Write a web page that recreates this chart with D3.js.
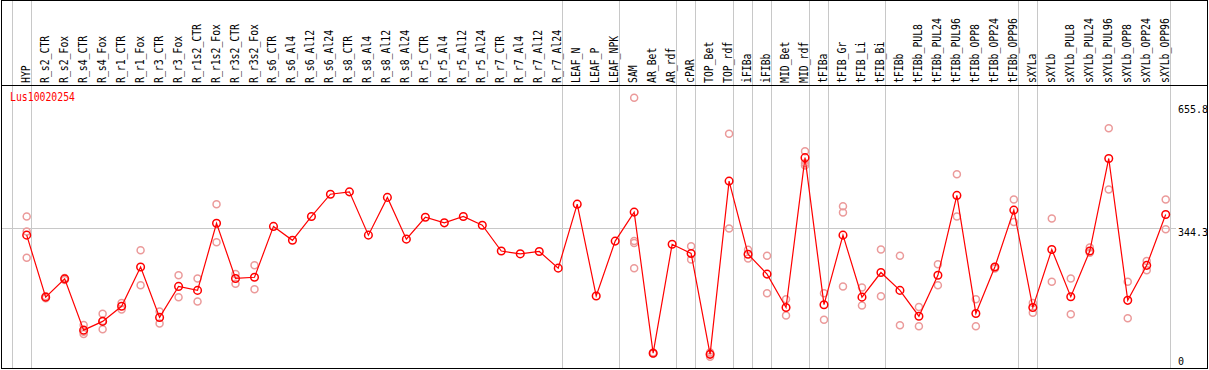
<!DOCTYPE html>
<html>
<head>
<meta charset="utf-8">
<script src="https://cdn.jsdelivr.net/npm/d3@7"></script>
<style>
  body { margin: 0; background: #fff; }
  svg { display: block; }
  text { font-family: "DejaVu Sans Mono", monospace; }
</style>
</head>
<body>
<svg id="chart" width="1209" height="370"></svg>
<script>
// categories along the x axis
const categories = [
  "HYP", "R_s2_CTR", "R_s2_Fox", "R_s4_CTR", "R_s4_Fox", "R_r1_CTR", "R_r1_Fox",
  "R_r3_CTR", "R_r3_Fox", "R_r1s2_CTR", "R_r1s2_Fox", "R_r3s2_CTR", "R_r3s2_Fox",
  "R_s6_CTR", "R_s6_Al4", "R_s6_Al12", "R_s6_Al24", "R_s8_CTR", "R_s8_Al4", "R_s8_Al12", "R_s8_Al24",
  "R_r5_CTR", "R_r5_Al4", "R_r5_Al12", "R_r5_Al24", "R_r7_CTR", "R_r7_Al4", "R_r7_Al12", "R_r7_Al24",
  "LEAF_N", "LEAF_P", "LEAF_NPK", "SAM", "AR_Bet", "AR_rdf", "cPAR", "TOP_Bet", "TOP_rdf",
  "iFIBa", "iFIBb", "MID_Bet", "MID_rdf", "tFIBa", "tFIB_Gr", "tFIB_Li", "tFIB_Bi", "tFIBb",
  "tFIBb_PUL8", "tFIBb_PUL24", "tFIBb_PUL96", "tFIBb_OPP8", "tFIBb_OPP24", "tFIBb_OPP96",
  "sXYLa", "sXYLb", "sXYLb_PUL8", "sXYLb_PUL24", "sXYLb_PUL96", "sXYLb_OPP8", "sXYLb_OPP24", "sXYLb_OPP96"
];

// mean expression (the connected line)
const meanValues = [
  327, 171, 217, 88, 110, 148, 247, 120, 198, 188, 357, 218, 221,
  349, 314, 374, 430, 436, 327, 422, 317, 372, 358, 374, 352, 287, 280, 286, 244,
  405, 174, 312, 385, 30, 304, 281, 27, 463,
  279, 229, 145, 522, 152, 327, 171, 233, 188,
  123, 226, 427, 130, 247, 390,
  145, 291, 172, 287, 520, 163, 251, 379
];

// individual replicate values (light circles)
const replicateValues = [
  [374, 336, 270], [168, 173], [214, 219], [101, 78, 84], [129, 90, 111], [156, 140], [289, 201],
  [135, 105], [226, 171], [218, 160], [405, 309], [229, 205], [251, 191],
  [], [], [], [], [], [], [], [], [], [], [], [], [], [], [], [],
  [], [], [], [673, 312, 307, 244], [29, 32], [], [299, 266], [32, 21, 28], [582, 344],
  [290, 268], [275, 181], [166, 125], [538, 508, 502], [181, 114], [400, 384, 198], [195, 150], [291, 173], [275, 100],
  [146, 98], [254, 201], [480, 374], [166, 98], [247, 243], [417, 360],
  [156, 132], [369, 210], [218, 128], [296, 283], [596, 442], [210, 118], [262, 239], [417, 342]
];

// group separators: drawn just after these category indexes
const groupEnds = [-1, 0, 28, 31, 34, 35, 37, 38, 39, 41, 42, 45, 52, 53, 60];

const yTicks = [0, 344.3, 655.8];
const seriesName = "Lus10020254";

const svg = d3.select("#chart");
const W = 1209, headerBottom = 85.5, plotBottom = 368.5;

const x = d3.scalePoint().domain(categories).range([26.7, 1165.7]);
const step = x.step();
const xi = i => x(categories[0]) + step * i;
const y = d3.scaleLinear().domain([0, 655.8]).range([365.1, 104.5]);

// grid lines
svg.selectAll(".sep")
  .data(groupEnds)
  .enter().append("line")
  .attr("x1", d => Math.round(xi(d) + 4) + 0.5)
  .attr("x2", d => Math.round(xi(d) + 4) + 0.5)
  .attr("y1", 0).attr("y2", plotBottom)
  .style("stroke", "#c8c8c8").style("stroke-width", 1);

svg.append("line")
  .attr("x1", 1).attr("x2", 1176)
  .attr("y1", Math.round(y(344.3)) + 0.5).attr("y2", Math.round(y(344.3)) + 0.5)
  .style("stroke", "#c8c8c8");

// frame
svg.append("rect")
  .attr("x", 1.5).attr("y", 0.5)
  .attr("width", 1206).attr("height", plotBottom - 0.5)
  .style("fill", "none").style("stroke", "#000");
svg.append("line")
  .attr("x1", 1).attr("x2", 1208)
  .attr("y1", headerBottom).attr("y2", headerBottom)
  .style("stroke", "#000");

// rotated category labels
svg.selectAll(".cat")
  .data(categories)
  .enter().append("text")
  .attr("transform", d => "translate(" + (x(d) + 3) + ",83) rotate(-90)")
  .attr("textLength", d => d.length * 5.9)
  .attr("lengthAdjust", "spacingAndGlyphs")
  .style("font-size", "12px")
  .style("fill", "#000")
  .text(d => d);

// y tick labels
svg.selectAll(".ytick")
  .data(yTicks)
  .enter().append("text")
  .attr("x", 1178)
  .attr("y", d => Math.min(y(d) + 8, 365))
  .style("font-size", "10px")
  .style("fill", "#000")
  .text(d => d);

// series name
svg.append("text")
  .attr("x", 10).attr("y", 101)
  .attr("textLength", 65)
  .attr("lengthAdjust", "spacingAndGlyphs")
  .style("font-size", "12px")
  .style("fill", "#ff0000")
  .text(seriesName);

// replicate circles
const reps = [];
replicateValues.forEach((vals, i) => vals.forEach(v => reps.push({c: categories[i], v: v})));
svg.selectAll(".rep")
  .data(reps)
  .enter().append("circle")
  .attr("cx", d => x(d.c))
  .attr("cy", d => y(d.v))
  .attr("r", 3.5)
  .style("fill", "none")
  .style("stroke", "#eb9a9a")
  .style("stroke-width", 1.5);

// mean line
const line = d3.line()
  .x((d, i) => x(categories[i]))
  .y(d => y(d));
svg.append("path")
  .attr("d", line(meanValues))
  .style("fill", "none")
  .style("stroke", "#ff0000")
  .style("stroke-width", 1.2);

svg.selectAll(".mean")
  .data(meanValues)
  .enter().append("circle")
  .attr("cx", (d, i) => x(categories[i]))
  .attr("cy", d => y(d))
  .attr("r", 3.8)
  .style("fill", "none")
  .style("stroke", "#ff0000")
  .style("stroke-width", 1.5);
</script>
</body>
</html>
